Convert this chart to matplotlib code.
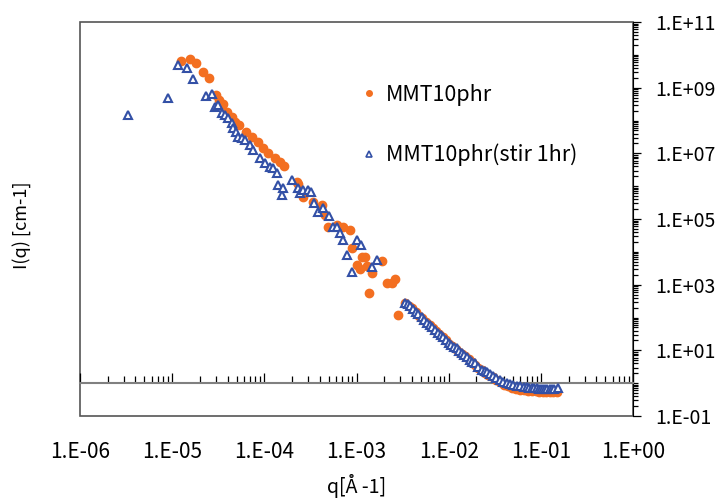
import numpy as np
import matplotlib
matplotlib.use("Agg")
import matplotlib.pyplot as plt
from matplotlib.ticker import FixedLocator, LogLocator, FuncFormatter, NullFormatter
from matplotlib.lines import Line2D
from matplotlib.patches import Rectangle

plt.rcParams['font.family'] = ['Noto Sans CJK JP', 'DejaVu Sans']

# MMT10phr (orange dots)
q_mmt = [1.25e-5, 1.56e-5, 1.82e-5, 2.18e-5, 2.51e-5, 2.99e-5, 3.24e-5, 3.59e-5,
         3.91e-5, 4.43e-5, 4.8e-5, 5.35e-5, 6.4e-5, 7.3e-5, 8.6e-5, 9.7e-5,
         1.1e-4, 1.31e-4, 1.48e-4, 1.63e-4, 2.24e-4, 2.33e-4, 2.65e-4, 3.4e-4,
         4.19e-4, 4.55e-4, 4.94e-4, 6.1e-4, 7.2e-4, 8.4e-4, 8.9e-4, 1.0e-3,
         1.09e-3, 1.14e-3, 1.24e-3, 1.31e-3, 1.38e-3, 1.46e-3, 1.88e-3, 2.12e-3,
         2.41e-3, 2.62e-3, 2.84e-3,
         3.4e-3, 3.7e-3, 4.0e-3, 4.4e-3, 4.8e-3, 5.2e-3, 5.7e-3, 6.2e-3, 6.7e-3,
         7.3e-3, 7.9e-3, 8.6e-3, 9.4e-3, 1.02e-2, 1.1e-2, 1.2e-2, 1.3e-2, 1.4e-2,
         1.5e-2, 1.65e-2, 1.8e-2, 1.95e-2, 2.1e-2, 2.3e-2, 2.5e-2, 2.7e-2, 3.0e-2,
         3.3e-2, 3.6e-2, 4.0e-2, 4.4e-2, 4.9e-2, 5.4e-2, 6.0e-2, 6.6e-2, 7.2e-2,
         8.0e-2, 8.8e-2, 9.6e-2, 0.105, 0.115, 0.125, 0.135, 0.15]
i_mmt = [6.5e9, 7.3e9, 5.5e9, 2.9e9, 1.93e9, 6.0e8, 4.2e8, 3.1e8,
         1.85e8, 1.3e8, 9.2e7, 7.3e7, 4.6e7, 3.2e7, 2.26e7, 1.42e7,
         1.0e7, 7.0e6, 5.6e6, 4.1e6, 1.37e6, 1.14e6, 4.8e5, 3.4e5,
         2.7e5, 1.32e5, 5.8e4, 6.6e4, 5.8e4, 4.6e4, 1.28e4, 4.0e3,
         3.1e3, 7.1e3, 7.1e3, 3.7e3, 570, 2.2e3, 5.2e3, 1.1e3,
         1.15e3, 1.46e3, 119,
         270, 230, 190, 145, 115, 95, 72, 58, 48,
         38, 31, 25, 20, 16, 13.5, 11, 9.0, 7.6,
         6.6, 5.4, 4.3, 3.7, 3.0, 2.5, 2.1, 1.8, 1.5,
         1.25, 1.05, 0.9, 0.8, 0.72, 0.66, 0.62, 0.60, 0.58,
         0.57, 0.56, 0.55, 0.55, 0.55, 0.53, 0.54, 0.52]

# MMT10phr(stir 1hr) (blue open triangles)
q_stir = [3.3e-6, 8.9e-6, 1.17e-5, 1.46e-5, 1.69e-5, 2.33e-5, 2.69e-5, 2.92e-5,
          3.17e-5, 3.45e-5, 3.74e-5, 4.07e-5, 4.43e-5, 4.6e-5, 4.93e-5, 5.2e-5,
          5.7e-5, 6.2e-5, 7.0e-5, 7.6e-5, 9.0e-5, 1.02e-4, 1.15e-4, 1.25e-4,
          1.36e-4, 1.42e-4, 1.54e-4, 1.61e-4, 1.98e-4, 2.33e-4, 2.44e-4, 2.65e-4,
          3.0e-4, 3.18e-4, 3.46e-4, 3.85e-4, 4.36e-4, 5.07e-4, 5.52e-4, 6.1e-4,
          6.6e-4, 7.2e-4, 7.9e-4, 8.9e-4, 1.0e-3, 1.11e-3, 1.46e-3, 1.68e-3,
          3.4e-3, 3.6e-3, 3.8e-3, 4.1e-3, 4.4e-3, 4.7e-3, 5.1e-3, 5.4e-3, 5.8e-3,
          6.2e-3, 6.6e-3, 7.1e-3, 7.7e-3, 8.2e-3, 8.7e-3, 9.3e-3, 1.0e-2, 1.07e-2,
          1.14e-2, 1.22e-2, 1.3e-2, 1.38e-2, 1.47e-2, 1.57e-2, 1.7e-2, 1.8e-2,
          1.93e-2, 2.1e-2, 2.28e-2, 2.45e-2, 2.6e-2, 2.8e-2, 3.05e-2, 3.3e-2,
          3.6e-2, 3.9e-2, 4.3e-2, 4.6e-2, 5.0e-2, 5.5e-2, 6.0e-2, 6.5e-2, 7.0e-2,
          7.5e-2, 8.0e-2, 8.5e-2, 9.0e-2, 9.5e-2, 0.10, 0.106, 0.112, 0.118,
          0.125, 0.131, 0.14, 0.155]
i_stir = [1.5e8, 4.7e8, 4.9e9, 3.9e9, 1.8e9, 5.6e8, 6.3e8, 2.5e8,
          3.0e8, 1.66e8, 1.47e8, 1.17e8, 8.2e7, 5.8e7, 4.6e7, 3.2e7,
          2.9e7, 2.5e7, 1.8e7, 1.26e7, 7.0e6, 5.0e6, 3.9e6, 3.5e6,
          2.5e6, 1.08e6, 5.4e5, 8.6e5, 1.54e6, 8.6e5, 6.2e5, 7.6e5,
          7.6e5, 6.8e5, 3.0e5, 1.67e5, 2.1e5, 1.23e5, 5.8e4, 5.8e4,
          3.7e4, 2.3e4, 8.0e3, 2.5e3, 2.3e4, 1.61e4, 3.5e3, 5.6e3,
          280, 250, 220, 180, 150, 125, 105, 85, 70,
          60, 52, 42, 34, 30, 26, 21, 17, 15,
          13, 11.5, 9.5, 8.1, 7.2, 6.4, 5.2, 4.5,
          4.0, 3.2, 2.6, 2.4, 2.2, 1.9, 1.65, 1.42,
          1.24, 1.1, 0.99, 0.92, 0.86, 0.83, 0.80, 0.78, 0.76,
          0.73, 0.72, 0.70, 0.69, 0.68, 0.66, 0.65, 0.66, 0.65,
          0.66, 0.65, 0.68, 0.73]

labels = ['MMT10phr', 'MMT10phr(stir 1hr)']
orange = '#F36F21'
blue = '#3350A6'

fig = plt.figure(figsize=(7.21, 4.99), dpi=100)
ax = fig.add_axes([80/721, 1-416/499, 553/721, 394/499])

ax.plot(q_mmt, i_mmt, 'o', ms=6, color=orange, mec=orange, zorder=3)
ax.plot(q_stir, i_stir, '^', ms=6.3, mfc='white', mec=blue, mew=1.5, zorder=4)

ax.set_xscale('log')
ax.set_yscale('log')
ax.set_xlim(1e-6, 1e0)
ax.set_ylim(1e-1, 1e11)

# x軸は I=1 の位置で交差
ax.spines['bottom'].set_position(('data', 1))
ax.spines['bottom'].set_color('#808080')
ax.spines['bottom'].set_linewidth(1.5)
ax.spines['top'].set_visible(False)
ax.spines['left'].set_visible(False)
ax.spines['right'].set_color('black')
ax.add_patch(Rectangle((0, 0), 1, 1, transform=ax.transAxes, fill=False,
                       ec='#555555', lw=1.2, clip_on=False, zorder=0))

fmt = FuncFormatter(lambda v, p: '1.E%+03d' % round(np.log10(v)))

ax.xaxis.set_major_locator(FixedLocator([10.0**e for e in range(-6, 1)]))
ax.xaxis.set_minor_locator(LogLocator(base=10, subs=np.arange(2, 10), numticks=20))
ax.xaxis.set_major_formatter(fmt)
ax.xaxis.set_minor_formatter(NullFormatter())
ax.tick_params(axis='x', which='both', direction='in', color='black', width=0.9,
               labelsize=15, pad=42)
ax.tick_params(axis='x', which='major', length=7)
ax.tick_params(axis='x', which='minor', length=5)

ax.yaxis.tick_right()
ax.yaxis.set_major_locator(FixedLocator([10.0**e for e in range(-1, 12, 2)]))
ax.yaxis.set_minor_locator(LogLocator(base=10, subs=np.arange(1, 10), numticks=30))
ax.yaxis.set_major_formatter(fmt)
ax.yaxis.set_minor_formatter(NullFormatter())
ax.tick_params(axis='y', which='both', direction='out', width=0.9, labelsize=14, pad=10)
ax.tick_params(axis='y', which='major', length=6)
ax.tick_params(axis='y', which='minor', length=3.5)

handles = [Line2D([], [], ls='', marker='o', ms=4, color=orange),
           Line2D([], [], ls='', marker='^', ms=4, mfc='white', mec=blue, mew=1.2)]
ax.legend(handles, labels, loc='upper left', bbox_to_anchor=(0.495, 0.865),
          frameon=False, fontsize=15.5, handlelength=0.6, handletextpad=0.5,
          labelspacing=1.75, borderaxespad=0)

fig.text(22/721, 1-225/499, 'I(q) [cm-1]', rotation=90, ha='center', va='center', fontsize=13)
fig.text(357/721, 1-486/499, 'q[Å -1]', ha='center', va='center', fontsize=14)

fig.savefig('out.png', dpi=100)
